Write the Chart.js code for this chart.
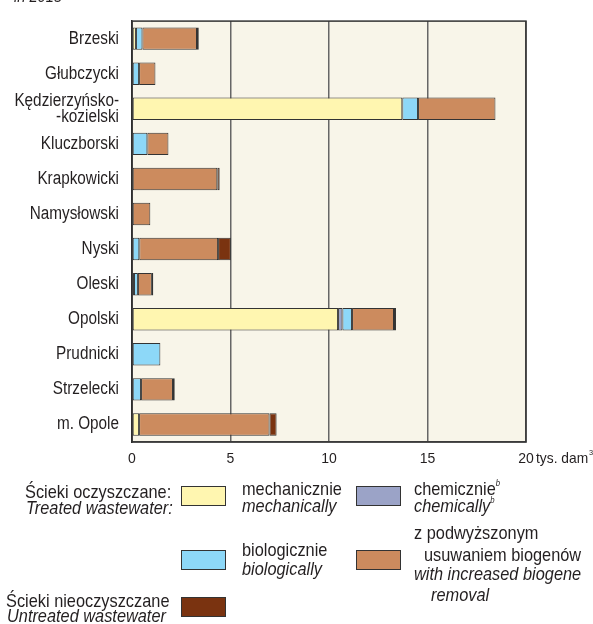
<!DOCTYPE html>
<html>
<head>
<meta charset="utf-8">
<script src="https://cdn.jsdelivr.net/npm/chart.js@4/dist/chart.umd.min.js"></script>
<style>
  html, body { margin:0; padding:0; background:#fff; }
  body { width:593px; height:624px; position:relative; overflow:hidden;
         font-family:'Liberation Sans',Arial,sans-serif; color:#231f20; }
  #wrap { position:absolute; left:0; top:0; width:593px; height:624px; }
  .t { position:absolute; white-space:nowrap; font-size:19px; line-height:18px;
       transform:scaleX(0.86); transform-origin:0 0; }
  .i { font-style:italic; }
  .sw { position:absolute; width:45px; height:20px; border:1px solid #333; box-sizing:border-box; }
  sup { font-size:9px; line-height:0; vertical-align:9px; }
</style>
</head>
<body>
<div id="wrap"><canvas id="c" width="593" height="624"></canvas></div>
<div class="t i" style="left:14px; top:-12px; font-size:17px;">in 2015</div>

<div class="t" style="left:25px; top:483px;">Ścieki oczyszczane:</div>
<div class="t i" style="left:26px; top:499px;">Treated wastewater:</div>
<div class="sw" style="left:181px; top:486px; background:#FFF6B0;"></div>
<div class="t" style="left:242px; top:480px;">mechanicznie</div>
<div class="t i" style="left:242px; top:497px;">mechanically</div>
<div class="sw" style="left:356px; top:486px; background:#9BA3C7;"></div>
<div class="t" style="left:414px; top:480px;">chemicznie<sup class="i">b</sup></div>
<div class="t i" style="left:414px; top:497px;">chemically<sup>b</sup></div>

<div class="t" style="left:414px; top:524px;">z podwyższonym</div>
<div class="t" style="left:424px; top:546px;">usuwaniem biogenów</div>
<div class="t i" style="left:414px; top:565px;">with increased biogene</div>
<div class="t i" style="left:431px; top:586px;">removal</div>
<div class="sw" style="left:181px; top:550px; background:#8DD8F8;"></div>
<div class="t" style="left:242px; top:541px;">biologicznie</div>
<div class="t i" style="left:242px; top:560px;">biologically</div>
<div class="sw" style="left:356px; top:550px; background:#CC8B5E;"></div>

<div class="t" style="left:6px; top:592px;">Ścieki nieoczyszczane</div>
<div class="t i" style="left:7px; top:607px;">Untreated wastewater</div>
<div class="sw" style="left:181px; top:597px; background:#7A3310;"></div>

<script>
const categories = ['Brzeski','Głubczycki',['Kędzierzyńsko-','-kozielski'],'Kluczborski','Krapkowicki','Namysłowski','Nyski','Oleski','Opolski','Prudnicki','Strzelecki','m. Opole'];
const mechanicznie = [0.2, null, 13.72, null, null, null, null, 0.1, 10.46, null, null, 0.36];
const chemicznie   = [null, null, null, null, null, null, null, null, 0.22, null, null, null];
const biologicznie = [0.33, 0.36, 0.8, 0.78, null, null, 0.37, 0.2, 0.49, 1.44, 0.46, null];
const biogeny      = [2.77, 0.83, 3.93, 1.07, 4.33, 0.93, 4.0, 0.71, 2.13, null, 1.62, 6.62];
const nieoczyszczane = [0.09, null, null, null, 0.12, null, 0.65, 0.07, 0.1, null, 0.09, 0.36];
const xTicks = [0, 5, 10, 15, 20];
const unitLabel = 'tys. dam';

const FONT = "'Liberation Sans',Arial,sans-serif";
Chart.defaults.font.family = FONT;
Chart.defaults.color = '#231f20';

const frame = {
  id: 'frame',
  beforeDraw(chart) {
    const a = chart.chartArea, ctx = chart.ctx;
    ctx.save(); ctx.fillStyle = '#F8F5E9';
    ctx.fillRect(a.left, a.top, a.right - a.left, a.bottom - a.top);
    ctx.restore();
  },
  beforeDatasetsDraw(chart) {
    const a = chart.chartArea, ctx = chart.ctx;
    ctx.save(); ctx.strokeStyle = '#333'; ctx.lineWidth = 1.5;
    ctx.strokeRect(a.left, a.top, a.right - a.left, a.bottom - a.top);
    ctx.restore();
  },
  afterDraw(chart) {
    const ctx = chart.ctx, x = chart.scales.x;
    const x0 = x.getPixelForValue(20) + 10;
    ctx.save(); ctx.fillStyle = '#231f20'; ctx.font = "15px " + FONT;
    ctx.textBaseline = 'middle'; ctx.textAlign = 'left';
    ctx.translate(x0, 0); ctx.scale(0.92, 1);
    ctx.fillText(unitLabel, 0, 459);
    const w = ctx.measureText(unitLabel).width;
    ctx.font = "8px " + FONT;
    ctx.fillText('3', w + 1, 453);
    ctx.restore();
  }
};

function condense(s, k) {
  if (s._cond) return;
  const orig = s.drawLabels;
  s._computeLabelArea = function () { return undefined; };
  s.drawLabels = function (ca) {
    const ctx = this.ctx, ax = this.right - this.options.ticks.padding;
    ctx.save(); ctx.translate(ax, 0); ctx.scale(k, 1); ctx.translate(-ax, 0);
    orig.call(this, ca);
    ctx.restore();
  };
  s._cond = true;
}

const mk = (label, data, color) => ({ label, data, backgroundColor: color, borderColor: '#333',
  borderWidth: 1, borderSkipped: false, barPercentage: 0.64, categoryPercentage: 1 });

new Chart(document.getElementById('c'), {
  type: 'bar',
  data: {
    labels: categories,
    datasets: [
      mk('mechanicznie', mechanicznie, '#FFF6B0'),
      mk('chemicznie', chemicznie, '#9BA3C7'),
      mk('biologicznie', biologicznie, '#8DD8F8'),
      mk('z podwyższonym usuwaniem biogenów', biogeny, '#CC8B5E'),
      mk('nieoczyszczane', nieoczyszczane, '#7A3310')
    ]
  },
  options: {
    indexAxis: 'y',
    responsive: false,
    animation: false,
    layout: { padding: { top: 10, right: 67, left: 0, bottom: 0 } },
    plugins: { legend: { display: false }, tooltip: { enabled: false } },
    scales: {
      x: {
        stacked: true, min: 0, max: 20,
        afterBuildTicks: s => { s.ticks = xTicks.map(v => ({ value: v })); },
        afterFit: s => { s.height = 624 - 442; },
        grid: { color: '#666', lineWidth: 1.5, drawTicks: false },
        border: { display: true, color: '#555', width: 1.5 },
        ticks: { padding: 9, font: { size: 14 }, color: '#231f20' }
      },
      y: {
        stacked: true,
        afterFit: s => { s.width = 132; condense(s, 0.85); },
        grid: { display: false, drawTicks: false },
        border: { display: true, color: '#222', width: 1.5 },
        ticks: { autoSkip: false, padding: 13, font: { size: 18, lineHeight: 0.9 }, color: '#231f20' }
      }
    }
  },
  plugins: [frame]
});
</script>
</body>
</html>
